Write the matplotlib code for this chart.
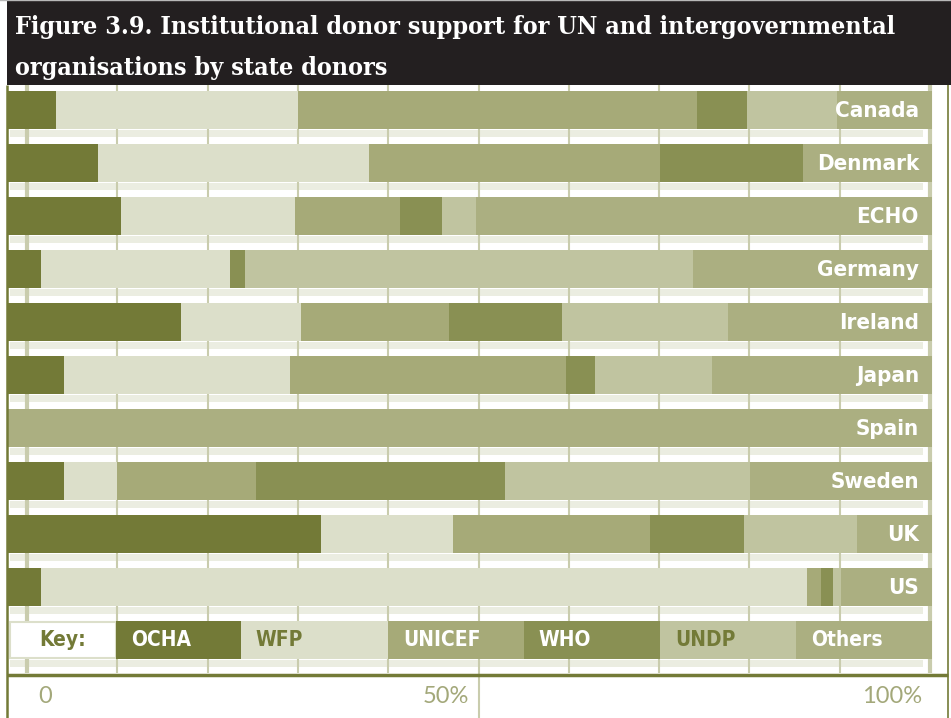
import matplotlib.pyplot as plt
import numpy as np

# Datos (% del apoyo de cada donante)
donantes = ['Canada', 'Denmark', 'ECHO', 'Germany', 'Ireland',
            'Japan', 'Spain', 'Sweden', 'UK', 'US']
agencias = ['OCHA', 'WFP', 'UNICEF', 'WHO', 'UNDP', 'Others']
ocha = [5.3, 9.8, 12.3, 3.7, 18.8, 6.2, 0, 6.2, 33.9, 3.7]
wfp = [26.2, 29.3, 18.8, 20.4, 13.0, 24.4, 0, 5.7, 14.3, 82.8]
unicef = [43.1, 31.5, 11.4, 0, 16.0, 29.8, 0, 15.0, 21.3, 1.5]
who = [5.4, 15.5, 4.5, 1.6, 12.2, 3.2, 0, 26.9, 10.2, 1.3]
undp = [9.7, 0, 3.7, 48.5, 17.9, 12.6, 0, 26.5, 12.2, 0.9]
others = [10.3, 13.9, 49.3, 25.8, 22.1, 23.8, 100, 19.7, 8.1, 9.8]
ticks = ['0', '50%', '100%']

colores = ['#737A37', '#DCDFCA', '#A6AA78', '#899053', '#C0C4A0', '#ABAF81']
color_texto_key = ['#737A37', 'white', '#737A37', 'white', 'white', '#737A37', 'white']
oscuro = '#737A37'
palido = '#EBEDE1'
rejilla = '#C9CCAD'
fuente = dict(family=['DejaVu Sans'], fontstretch='condensed', fontweight='bold')

# conversion de pixeles de la referencia a unidades de datos
def px_x(p):
    return (p - 7) / 9.25

def px_y(p):
    return (p - 110) / 53

fig = plt.figure(figsize=(9.51, 7.18), dpi=100)
ax = fig.add_axes([0, 0, 1, 1])
ax.set_xlim(px_x(0), px_x(951))
ax.set_ylim(px_y(718), px_y(0))
ax.axis('off')

alto = 0.72
filas = np.arange(len(donantes))

# franjas palidas entre filas
for i in range(len(donantes) + 1):
    ax.fill_between([px_x(10), px_x(923)], i + 0.37, i + 0.37 + 0.135,
                    color=palido, lw=0, zorder=1)

# rejilla de fondo
xs = np.linspace(px_x(27), px_x(930), 11)
for k, x in enumerate(xs):
    lw = 3 if k in (0, 10) else 1.5
    y_fin = px_y(718) if k == 5 else px_y(673)
    ax.plot([x, x], [px_y(85), y_fin], color=rejilla, lw=lw, zorder=2,
            solid_capstyle='butt')

# barras apiladas
series = [ocha, wfp, unicef, who, undp, others]
izquierda = np.zeros(len(donantes))
for serie, c in zip(series, colores):
    ax.barh(filas, serie, left=izquierda, height=alto, color=c, lw=0, zorder=3)
    izquierda += np.array(serie)

for i, d in enumerate(donantes):
    ax.text(px_x(919), i + 0.14, d, ha='right', va='baseline', color='white',
            fontsize=16, zorder=4, **fuente)

# leyenda (Key)
fila_key = len(donantes)
bordes = [px_x(p) for p in [10, 116, 241, 388, 524, 660, 796, 932]]
ax.barh(fila_key, bordes[1] - bordes[0], left=bordes[0], height=alto - 0.04,
        color='white', edgecolor='#DCDFCA', lw=1.5, zorder=3)
ax.text((bordes[0] + bordes[1]) / 2, fila_key + 0.12, 'Key:', ha='center',
        va='baseline', color=oscuro, fontsize=15, zorder=4, **fuente)
for k, nombre in enumerate(agencias):
    ax.barh(fila_key, bordes[k + 2] - bordes[k + 1], left=bordes[k + 1],
            height=alto, color=colores[k], lw=0, zorder=3)
    ax.text(bordes[k + 1] + 1.6, fila_key + 0.12, nombre, ha='left',
            va='baseline', color=color_texto_key[k + 1], fontsize=15,
            zorder=4, **fuente)

# eje inferior y bordes
ax.plot([px_x(7), px_x(948)], [px_y(675), px_y(675)], color=oscuro, lw=2.5,
        zorder=5, solid_capstyle='butt')
ax.plot([px_x(7), px_x(7)], [px_y(85), px_y(718)], color=oscuro, lw=1.8,
        zorder=5, solid_capstyle='butt')
ax.plot([px_x(948), px_x(948)], [px_y(85), px_y(718)], color=oscuro, lw=1.2,
        zorder=5, solid_capstyle='butt')

posiciones = [(px_x(45), 'center'), (50, 'right'), (px_x(922), 'right')]
for (x, alin), t in zip(posiciones, ticks):
    ax.text(x, px_y(703), t, ha=alin, va='baseline', color='#A3A87A',
            fontsize=17, fontweight='normal', family=['Lato', 'DejaVu Sans'])

# titulo
ax.fill_between([px_x(7), px_x(951)], px_y(1), px_y(85), color='#231F20',
                lw=0, zorder=6)
ax.plot([px_x(0), px_x(951)], [px_y(0.5), px_y(0.5)], color='#B8B8B8',
        lw=1, zorder=6)
titulo = ['Figure 3.9. Institutional donor support for UN and intergovernmental',
          'organisations by state donors']
for linea, yb in zip(titulo, [34, 75]):
    fig.text(15 / 951, 1 - yb / 718, linea, color='white', fontsize=18,
             fontweight='bold', fontstretch='condensed',
             family=['DejaVu Serif'], zorder=7)

fig.savefig('out.png', dpi=100)
